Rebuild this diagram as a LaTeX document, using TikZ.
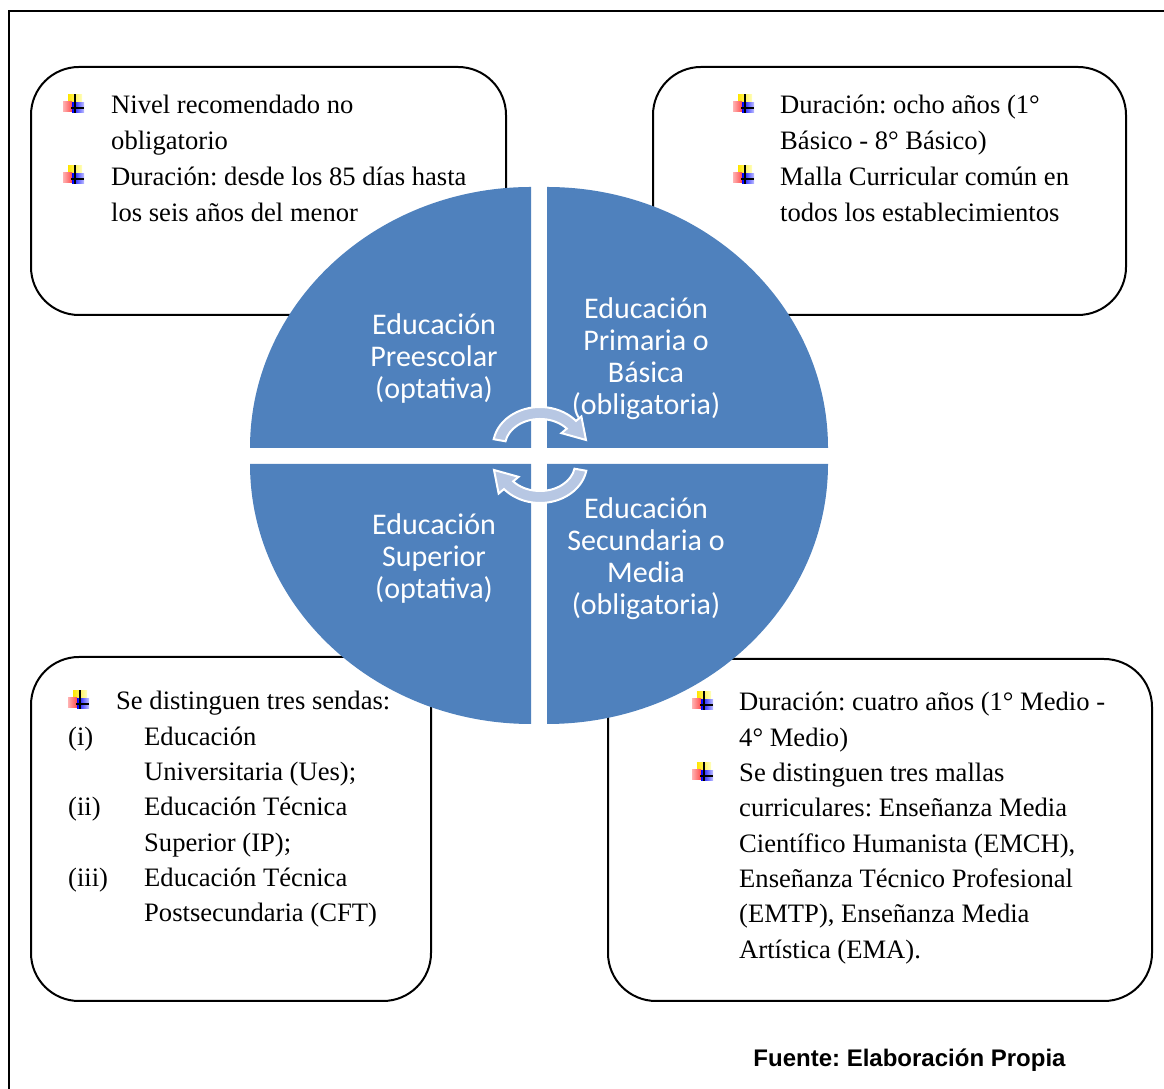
\documentclass[tikz,border=0pt]{standalone}
\usepackage{fontspec}
\setmainfont{Liberation Serif}
\newfontfamily\quadfont{Carlito}
\newfontfamily\sourcefont{Liberation Sans}
\definecolor{quadblue}{HTML}{4F81BD}
\definecolor{cycleblue}{HTML}{B7C7E3}
\frenchspacing
\begin{document}
\begin{tikzpicture}[x=1pt,y=1pt,
  infobox/.style={draw=black, line width=2pt, rounded corners=48pt},
  quadrant/.style={fill=quadblue},
  quadtext/.style={text=white, align=center, inner sep=0pt,
    font=\quadfont\fontsize{30}{32}\selectfont},
  bodytext/.style={anchor=base west, inner sep=0pt,
    font=\fontsize{26.6}{35.3}\selectfont},
  cyclearrow/.style={fill=cycleblue, draw=white, line width=2pt, line join=miter},
  bulleticon/.pic={
    \shade[left color=yellow!80!orange, right color=yellow!25] (-7,3) rectangle (7,13);
    \shade[left color=red!30, right color=red!70] (-12,-4) rectangle (-3,6);
    \shade[left color=blue, right color=blue!25] (-3,-5) rectangle (9,5);
    \draw[line width=1.3pt] (0,-5) -- (0,14) (-4,0) -- (9,0);
  }
]
\useasboundingbox (0,0) rectangle (1164,1089);

% outer frame (runs past the right and bottom page edges)
\draw[line width=2.5pt] (9,-30) rectangle (1200,1078);

% the four information boxes
\draw[infobox] (31,774) rectangle (506,1022);
\draw[infobox] (653,774) rectangle (1126,1022);
\draw[infobox] (31,88) rectangle (431,432);
\draw[infobox] (608,88) rectangle (1152,430);

% the four quadrants of the central disc
\fill[quadrant] (531,641) -- (250,641) arc[start angle=180, end angle=90, x radius=281, y radius=261] -- cycle;
\fill[quadrant] (547,641) -- (828,641) arc[start angle=0, end angle=90, x radius=281, y radius=261] -- cycle;
\fill[quadrant] (531,625) -- (250,625) arc[start angle=180, end angle=270, x radius=281, y radius=260] -- cycle;
\fill[quadrant] (547,625) -- (828,625) arc[start angle=0, end angle=-90, x radius=281, y radius=260] -- cycle;

% circular arrows in the middle
\begin{scope}[shift={(540,643)}]
  \filldraw[cyclearrow] (170:47 and 39) arc[start angle=170, end angle=40, x radius=47, y radius=39]
    -- (40:54 and 46) -- (46,6) -- (40:28 and 20) -- (40:35 and 27)
    arc[start angle=40, end angle=170, x radius=35, y radius=27] -- cycle;
\end{scope}
\begin{scope}[rotate around={180:(540,634)}, shift={(540,643)}]
  \filldraw[cyclearrow] (170:47 and 39) arc[start angle=170, end angle=40, x radius=47, y radius=39]
    -- (40:54 and 46) -- (46,6) -- (40:28 and 20) -- (40:35 and 27)
    arc[start angle=40, end angle=170, x radius=35, y radius=27] -- cycle;
\end{scope}

% quadrant labels
\node[quadtext] (qpre) at (434,730.5) {Educación\\Preescolar\\(optativa)};
\node[quadtext] (qpri) at (646,730) {Educación\\Primaria o\\Básica\\(obligatoria)};
\node[quadtext] (qsup) at (434,530) {Educación\\Superior\\(optativa)};
\node[quadtext] (qsec) at (646,530) {Educación\\Secundaria o\\Media\\(obligatoria)};

% bullet icons
\pic at (75,981) {bulleticon};
\pic at (75,910) {bulleticon};
\pic at (745,981) {bulleticon};
\pic at (745,910) {bulleticon};
\pic at (80,385) {bulleticon};
\pic at (704,384) {bulleticon};
\pic at (704,313) {bulleticon};

% top-left box
\node[bodytext] (tl1) at (111,975) {Nivel recomendado no};
\node[bodytext] (tl2) at (111,939) {obligatorio};
\node[bodytext] (tl3) at (111,903) {Duración: desde los 85 días hasta};
\node[bodytext] (tl4) at (111,867) {los seis años del menor};

% top-right box
\node[bodytext] (tr1) at (780,975) {Duración: ocho años (1°};
\node[bodytext] (tr2) at (780,939) {Básico - 8° Básico)};
\node[bodytext] (tr3) at (780,903) {Malla Curricular común en};
\node[bodytext] (tr4) at (780,867) {todos los establecimientos};

% bottom-left box
\node[bodytext] (bl1) at (116,379) {Se distinguen tres sendas:};
\node[bodytext] (bl2n) at (68,343.7) {(i)};
\node[bodytext] (bl2) at (144,343.7) {Educación};
\node[bodytext] (bl3) at (144,308.4) {Universitaria (Ues);};
\node[bodytext] (bl4n) at (68,273.1) {(ii)};
\node[bodytext] (bl4) at (144,273.1) {Educación Técnica};
\node[bodytext] (bl5) at (144,237.8) {Superior (IP);};
\node[bodytext] (bl6n) at (68,202.5) {(iii)};
\node[bodytext] (bl6) at (144,202.5) {Educación Técnica};
\node[bodytext] (bl7) at (144,167.2) {Postsecundaria (CFT)};

% bottom-right box
\node[bodytext] (br1) at (739,378) {Duración: cuatro años (1° Medio -};
\node[bodytext] (br2) at (739,342.7) {4° Medio)};
\node[bodytext] (br3) at (739,307.4) {Se distinguen tres mallas};
\node[bodytext] (br4) at (739,272.1) {curriculares: Enseñanza Media};
\node[bodytext] (br5) at (739,236.8) {Científico Humanista (EMCH),};
\node[bodytext] (br6) at (739,201.5) {Enseñanza Técnico Profesional};
\node[bodytext] (br7) at (739,166.2) {(EMTP), Enseñanza Media};
\node[bodytext] (br8) at (739,130.9) {Artística (EMA).};

% source line
\node[anchor=base, inner sep=0pt, font=\sourcefont\bfseries\fontsize{24}{28}\selectfont]
  (source) at (909.5,22.5) {Fuente: Elaboración Propia};
\end{tikzpicture}
\end{document}
